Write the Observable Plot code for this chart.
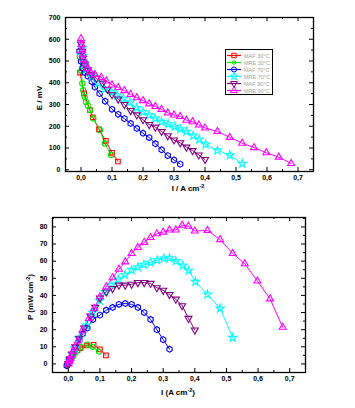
<!DOCTYPE html>
<html>
<head>
<meta charset="utf-8">
<script src="https://cdn.jsdelivr.net/npm/d3@7"></script>
<script src="https://cdn.jsdelivr.net/npm/@observablehq/plot@0.6"></script>
<style>
  body { margin: 0; background: #fff; }
  #wrap { position: relative; width: 355px; height: 408px; overflow: hidden; font-family: "Liberation Sans", Arial, sans-serif; }
  .panel { position: absolute; left: 0; }
  .title { position: absolute; font-weight: bold; font-size: 8px; color: #000; white-space: nowrap; }
  .title sup { font-size: 5.5px; }
  .rot { transform: translate(-50%, -50%) rotate(-90deg); }
  .hc { transform: translate(-50%, -50%); }
  #legend { position: absolute; left: 225px; top: 49px; width: 46px; height: 44px; border: 1px solid #000; background: #fff; }
</style>
</head>
<body>
<div id="wrap"></div>
<script>
// ---- data ----
const seriesNames = ["MAF 30°C", "MRE 30°C", "MAF 70°C", "MRE 70°C", "MAF 90°C", "MRE 90°C"];
const seriesColors = ["#ff0000", "#00e600", "#0000ff", "#00ffff", "#800080", "#ff00ff"];
const seriesSymbols = ["square", "circle", "hexagon", "star", "triangle", "triangle"];
const seriesRotate = [0, 0, 0, 0, 180, 0];

const iMAF30 = [-0.003, 0.01, 0.029, 0.038, 0.058, 0.08, 0.1, 0.119];
const eMAF30 = [446, 351, 274, 241, 186, 133, 78, 38];
const pMAF30 = [-0.5, 3.5, 8, 9.2, 10.8, 11.2, 8.5, 5];

const iMRE30 = [-0.004, 0.001, 0.004, 0.007, 0.012, 0.016, 0.022, 0.029, 0.04, 0.061, 0.077, 0.097];
const eMRE30 = [520, 455, 397, 366, 335, 312, 295, 274, 236, 182, 121, 68];
const pMRE30 = [-1, 0.5, 1.6, 2.6, 4, 5, 6.5, 8, 9.8, 11.3, 10, 7.2];

const iMAF70 = [-0.005, 0.0, 0.005, 0.012, 0.022, 0.035, 0.045, 0.06, 0.078, 0.1, 0.12, 0.14, 0.16, 0.18, 0.2, 0.22, 0.24, 0.26, 0.28, 0.3, 0.32];
const eMAF70 = [545, 498, 468, 447, 430, 405, 380, 350, 315, 278, 255, 235, 213, 190, 168, 148, 120, 92, 65, 45, 26];
const pMAF70 = [-1, 0, 2.3, 5.4, 9.5, 14, 17.5, 21, 26, 28.5, 31.4, 33, 34.8, 35.3, 34.8, 33, 30, 26, 20, 14.2, 8.6];

const iMRE70 = [0.003, 0.006, 0.012, 0.02, 0.035, 0.056, 0.077, 0.099, 0.117, 0.137, 0.158, 0.179, 0.2, 0.22, 0.239, 0.26, 0.281, 0.302, 0.32, 0.34, 0.362, 0.381, 0.402, 0.44, 0.48, 0.52];
const eMRE70 = [560, 525, 490, 462, 430, 397, 370, 357, 342, 327, 310, 284, 266, 251, 236, 221, 210, 198, 187, 175, 157, 140, 117, 89, 67, 28];
const pMRE70 = [1.7, 3.2, 5.9, 9.2, 15, 22.5, 30, 37, 42, 46, 49.3, 52, 54.8, 56.5, 58, 59.2, 60.6, 61.6, 61.8, 60, 57.5, 54.5, 48, 40.6, 32.4, 15.3];

const iMAF90 = [0.0, 0.004, 0.006, 0.012, 0.022, 0.034, 0.05, 0.07, 0.085, 0.1, 0.12, 0.14, 0.16, 0.18, 0.2, 0.22, 0.24, 0.26, 0.28, 0.3, 0.32, 0.34, 0.36, 0.38, 0.4];
const eMAF90 = [578, 545, 512, 482, 458, 437, 420, 398, 370, 345, 325, 300, 272, 252, 230, 208, 196, 176, 156, 137, 124, 104, 88, 68, 47];
const pMAF90 = [0, 2.2, 3, 5.8, 10, 15, 21, 28, 33, 38.5, 42, 44, 46, 46, 46.5, 47.5, 47.5, 47, 44.5, 43, 40.5, 37.8, 34, 26.6, 19.8];

const iMRE90 = [0, 0.002, 0.004, 0.006, 0.01, 0.015, 0.02, 0.03, 0.045, 0.065, 0.082, 0.1, 0.12, 0.14, 0.16, 0.18, 0.2, 0.22, 0.24, 0.26, 0.28, 0.3, 0.32, 0.34, 0.36, 0.38, 0.4, 0.44, 0.48, 0.52, 0.558, 0.598, 0.638, 0.678];
const eMRE90 = [603, 575, 550, 530, 505, 486, 466, 450, 438, 425, 408, 390, 378, 364, 346, 331, 318, 303, 291, 277, 261, 252, 245, 228, 221, 206, 192, 176, 149, 122, 102, 78, 58, 29];
const pMRE90 = [0, 1.2, 2.2, 3.2, 5, 7.3, 9.3, 13.5, 19.7, 26.5, 32.4, 39.2, 45, 50.3, 55.3, 59.6, 64.5, 68, 71, 73.8, 76, 77, 78.2, 78.2, 81, 80.4, 77.6, 78, 72.6, 64.5, 58.5, 48.4, 38, 21.4];

const xTicks = [0, 0.1, 0.2, 0.3, 0.4, 0.5, 0.6, 0.7];
const xMinor = [-0.05, 0.05, 0.15, 0.25, 0.35, 0.45, 0.55, 0.65, 0.75];
const eTicks = [0, 100, 200, 300, 400, 500, 600, 700];
const eMinor = [50, 150, 250, 350, 450, 550, 650];
const pTicks = [0, 10, 20, 30, 40, 50, 60, 70, 80];
const pMinor = [-5, 5, 15, 25, 35, 45, 55, 65, 75, 85];

// ---- build table ----
const seriesData = [
  [iMAF30, eMAF30, pMAF30], [iMRE30, eMRE30, pMRE30], [iMAF70, eMAF70, pMAF70],
  [iMRE70, eMRE70, pMRE70], [iMAF90, eMAF90, pMAF90], [iMRE90, eMRE90, pMRE90]
];
const rows = [];
seriesData.forEach(([I, E, P], k) => {
  I.forEach((v, j) => rows.push({series: seriesNames[k], rot: seriesRotate[k], I: v, E: E[j], P: P[j]}));
});

const fmtX = d => d.toFixed(1).replace(".", ",");

function panel({yField, yDomain, yTicksMaj, yTicksMin, height, mt, mb, ml, mr}) {
  const ph = height - mt - mb;
  const pw = 355 - ml - mr;
  return Plot.plot({
    width: 355, height,
    marginTop: mt, marginBottom: mb, marginLeft: ml, marginRight: mr,
    x: {domain: [-0.05, 0.75]},
    y: {domain: yDomain},
    color: {domain: seriesNames, range: seriesColors},
    symbol: {domain: seriesNames, range: seriesSymbols},
    style: {fontFamily: "Liberation Sans, Arial, sans-serif", fontSize: "7px", fontWeight: "bold", color: "#000", background: "transparent"},
    marks: [
      Plot.tickX(xTicks, {x: d => d, insetTop: ph - 4, stroke: "#000"}),
      Plot.tickX(xTicks, {x: d => d, insetBottom: ph - 4, stroke: "#000"}),
      Plot.tickX(xMinor, {x: d => d, insetTop: ph - 2, stroke: "#000"}),
      Plot.tickX(xMinor, {x: d => d, insetBottom: ph - 2, stroke: "#000"}),
      Plot.tickY(yTicksMaj, {y: d => d, insetRight: pw - 4, stroke: "#000"}),
      Plot.tickY(yTicksMaj, {y: d => d, insetLeft: pw - 4, stroke: "#000"}),
      Plot.tickY(yTicksMin, {y: d => d, insetRight: pw - 2, stroke: "#000"}),
      Plot.tickY(yTicksMin, {y: d => d, insetLeft: pw - 2, stroke: "#000"}),
      Plot.axisX(xTicks, {tickSize: 0, tickPadding: 4, tickFormat: fmtX, label: null}),
      Plot.axisY(yTicksMaj, {tickSize: 0, tickPadding: 5, label: null}),
      Plot.line(rows, {x: "I", y: yField, z: "series", stroke: "series", strokeWidth: 1}),
      Plot.dot(rows, {x: "I", y: yField, stroke: "series", symbol: "series", rotate: "rot", r: 2.6, strokeWidth: 1.1, fill: "none"}),
      Plot.frame({stroke: "#000", strokeWidth: 1.3})
    ]
  });
}

const wrap = document.getElementById("wrap");

const top1 = panel({yField: "E", yDomain: [-8, 700], yTicksMaj: eTicks, yTicksMin: eMinor, height: 200, mt: 17, mb: 29, ml: 65, mr: 42});
top1.classList.add("panel"); top1.style.top = "0px";
wrap.appendChild(top1);

const bot = panel({yField: "P", yDomain: [-5, 85.5], yTicksMaj: pTicks, yTicksMin: pMinor, height: 208, mt: 17, mb: 36, ml: 52, mr: 50});
bot.classList.add("panel"); bot.style.top = "200px";
wrap.appendChild(bot);

// axis titles
function addTitle(html, x, y, rotate) {
  const d = document.createElement("div");
  d.className = "title " + (rotate ? "rot" : "hc");
  d.style.left = x + "px"; d.style.top = y + "px";
  d.innerHTML = html;
  wrap.appendChild(d);
}
addTitle("E / mV", 39, 98, true);
addTitle("I / A cm<sup>-2</sup>", 188, 188, false);
addTitle("P (mW cm<sup>-2</sup>)", 30, 297, true);
addTitle("I (A cm<sup>-2</sup>)", 178, 392, false);

// legend
const leg = document.createElement("div");
leg.id = "legend";
wrap.appendChild(leg);
const symMap = {square: d3.symbolSquare, circle: d3.symbolCircle, hexagon: d3.symbolCircle, star: d3.symbolStar, triangle: d3.symbolTriangle};
const lsvg = d3.select(leg).append("svg").attr("width", 46).attr("height", 44);
seriesNames.forEach((name, k) => {
  const y = 5.5 + k * 7;
  const g = lsvg.append("g");
  g.append("line").attr("x1", 1).attr("x2", 15).attr("y1", y).attr("y2", y).attr("stroke", seriesColors[k]).attr("stroke-width", 1.2);
  g.append("path").attr("d", d3.symbol(symMap[seriesSymbols[k]], k === 1 ? 10 : 20)()).attr("transform", `translate(8,${y}) rotate(${seriesRotate[k]})`)
    .attr("fill", "none").attr("stroke", seriesColors[k]).attr("stroke-width", 1);
  g.append("text").attr("x", 18).attr("y", y + 2).attr("font-size", 5.5).attr("font-family", "Liberation Sans, Arial, sans-serif")
    .attr("fill", "#a0a0a0").text(name);
});
</script>
</body>
</html>
